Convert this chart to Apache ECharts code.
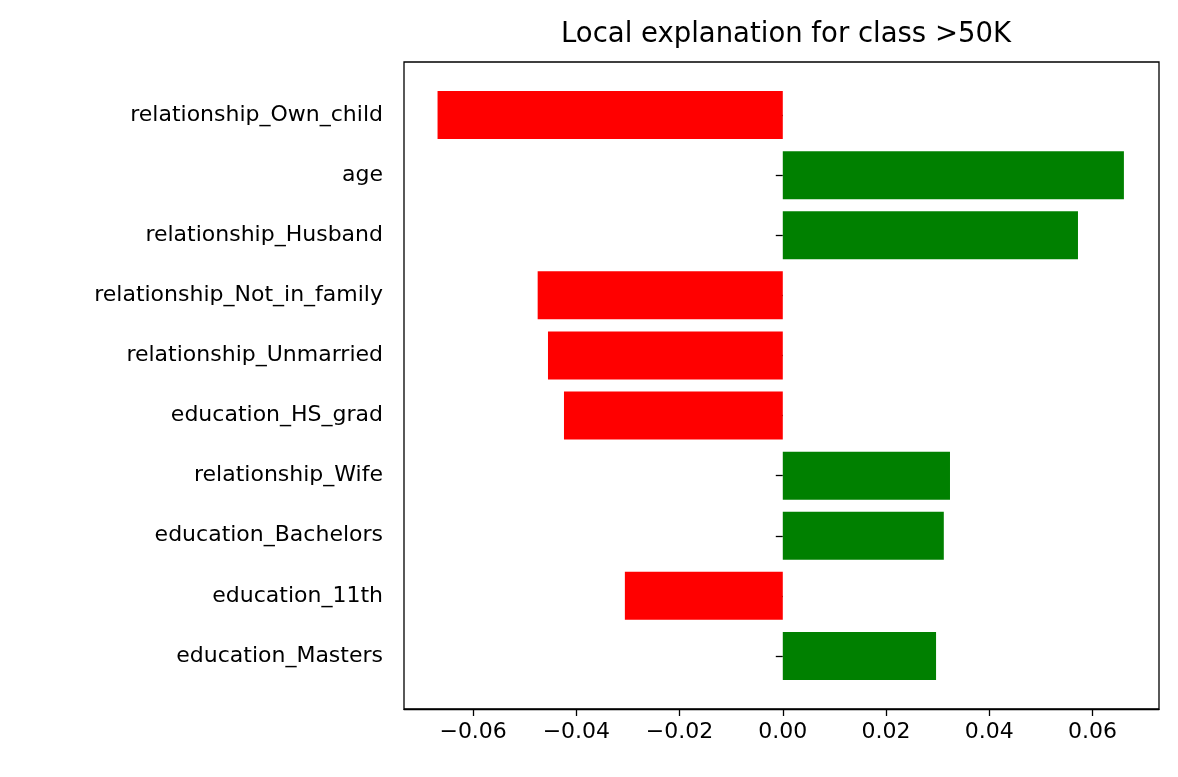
<!DOCTYPE html>
<html>
<head>
<meta charset="utf-8">
<script src="https://cdn.jsdelivr.net/npm/echarts@6/dist/echarts.min.js"></script>
<style>body{margin:0;background:#fff}#c{width:1178px;height:777px}</style>
</head>
<body>
<div id="c"></div>
<script>
const features = ['relationship_Own_child', 'age', 'relationship_Husband', 'relationship_Not_in_family',
  'relationship_Unmarried', 'education_HS_grad', 'relationship_Wife', 'education_Bachelors',
  'education_11th', 'education_Masters'];
const weights = [-0.0669, 0.0661, 0.0572, -0.0475, -0.0455, -0.0424, 0.0324, 0.0312, -0.0306, 0.0297];
const xTicks = [-0.06, -0.04, -0.02, 0, 0.02, 0.04, 0.06];

const chart = echarts.init(document.getElementById('c'));
const font = 'DejaVu Sans';
chart.setOption({
  animation: false,
  title: {
    text: 'Local explanation for class >50K', left: 781, top: 16, textAlign: 'center',
    textStyle: { fontFamily: font, fontSize: 27.5, fontWeight: 'normal', color: '#000' }
  },
  graphic: [{
    type: 'rect', shape: { x: 404, y: 62, width: 755, height: 647 },
    style: { fill: 'none', stroke: '#000', lineWidth: 1.3 }, z: 10
  }],
  grid: { left: 404, width: 755, top: 85, height: 601 },
  xAxis: {
    type: 'value', min: -0.0734, max: 0.0729, offset: 23,
    splitLine: { show: false },
    axisLine: { show: true, lineStyle: { color: '#000', width: 1.3 } },
    axisTick: { show: true, length: 7, customValues: xTicks, lineStyle: { color: '#000', width: 1.3 } },
    axisLabel: {
      customValues: xTicks, color: '#000', fontFamily: font, fontSize: 22, margin: 12,
      formatter: v => (v < 0 ? '\u2212' : '') + Math.abs(v).toFixed(2)
    }
  },
  yAxis: {
    type: 'category', data: features, inverse: true,
    axisLine: { show: false },
    axisTick: { show: true, alignWithLabel: true, length: 7, lineStyle: { color: '#000', width: 1.3 } },
    axisLabel: { color: '#000', fontFamily: font, fontSize: 22, margin: 21 }
  },
  series: [{
    type: 'bar', barWidth: 48,
    data: weights.map(v => ({ value: v, itemStyle: { color: v < 0 ? '#ff0000' : '#008000' } }))
  }]
});
</script>
</body>
</html>
